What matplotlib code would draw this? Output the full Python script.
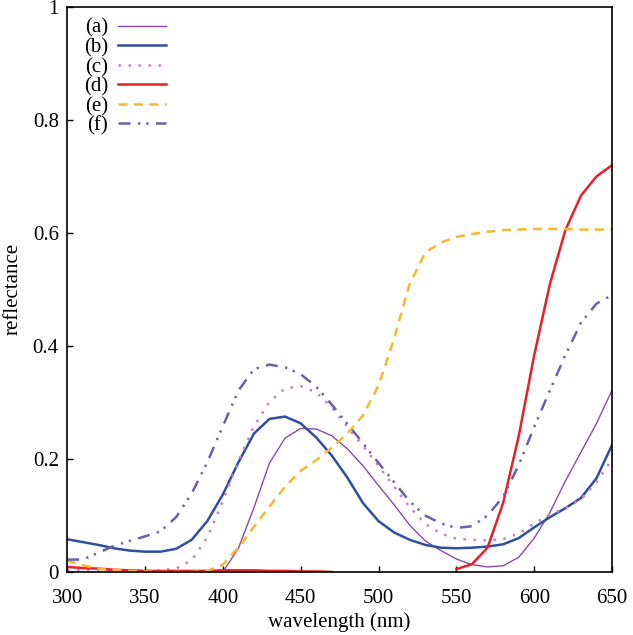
import numpy as np
import matplotlib
matplotlib.use('Agg')
import matplotlib.pyplot as plt

nan = np.nan

# wavelength grid (nm)
wavelength = np.arange(300, 651, 10)

# (a) thin purple
refl_a = [nan, nan, nan, nan, nan, nan, nan, nan, nan, nan,
          0.0, 0.042, 0.114, 0.193, 0.237, 0.254, 0.253, 0.241, 0.218, 0.188,
          0.153, 0.119, 0.083, 0.055, 0.038, 0.023, 0.013, 0.009, 0.011, 0.026,
          0.06, 0.105, 0.161, 0.212, 0.263, 0.322]
# (b) blue
refl_b = [0.058, 0.053, 0.048, 0.042, 0.038, 0.036, 0.036, 0.041, 0.057, 0.09,
          0.137, 0.194, 0.245, 0.271, 0.275, 0.263, 0.238, 0.206, 0.167, 0.122,
          0.09, 0.070, 0.057, 0.048, 0.043, 0.042, 0.043, 0.045, 0.049, 0.060,
          0.079, 0.097, 0.113, 0.131, 0.166, 0.225]
# (c) pink dotted
refl_c = [0.003, 0.003, 0.003, 0.002, 0.002, 0.002, 0.003, 0.006, 0.021, 0.061,
          0.125, 0.196, 0.258, 0.301, 0.325, 0.329, 0.318, 0.291, 0.257, 0.223,
          0.188, 0.151, 0.115, 0.085, 0.068, 0.059, 0.057, 0.056, 0.058, 0.068,
          0.086, 0.101, 0.113, 0.129, 0.159, 0.2]
# (d) red
refl_d = [0.009, 0.007, 0.006, 0.004, 0.003, 0.002, 0.002, 0.002, 0.002, 0.002,
          0.003, 0.003, 0.003, 0.002, 0.002, 0.001, 0.001, 0.0, nan, nan,
          nan, nan, nan, nan, nan, 0.005, 0.014, 0.043, 0.122, 0.24,
          0.384, 0.509, 0.605, 0.666, 0.70, 0.72]
# (e) yellow dashed
refl_e = [0.020, 0.012, 0.006, 0.004, 0.002, 0.001, 0.0, 0.0, 0.0, 0.002,
          0.013, 0.043, 0.08, 0.116, 0.151, 0.179, 0.198, 0.22, 0.245, 0.277,
          0.33, 0.413, 0.51, 0.565, 0.583, 0.593, 0.598, 0.602, 0.605, 0.606,
          0.607, 0.607, 0.607, 0.606, 0.606, 0.606]
# (f) dash-dot
refl_f = [0.022, 0.022, 0.034, 0.046, 0.055, 0.063, 0.072, 0.097, 0.139, 0.194,
          0.258, 0.321, 0.359, 0.367, 0.362, 0.35, 0.328, 0.296, 0.262, 0.228,
          0.193, 0.159, 0.125, 0.1, 0.086, 0.078, 0.081, 0.1, 0.133, 0.189,
          0.257, 0.321, 0.384, 0.441, 0.475, 0.49]

labels = ['(a)', '(b)', '(c)', '(d)', '(e)', '(f)']

plt.rcParams['font.family'] = ['Liberation Serif', 'DejaVu Serif']

fig = plt.figure(figsize=(6.33, 6.35), dpi=100)
ax = fig.add_axes([0.106, 0.0992, 0.861, 0.890])

ax.plot(wavelength, refl_a, color='#8a4ca6', lw=1.0, label=labels[0])
ax.plot(wavelength, refl_b, color='#2f4fa2', lw=1.8, label=labels[1])
ax.plot(wavelength, refl_c, color='#cf7fbf', lw=1.8, dashes=(1, 3.0), label=labels[2])
ax.plot(wavelength, refl_d, color='#e8202a', lw=1.8, label=labels[3])
ax.plot(wavelength, refl_e, color='#f7b82b', lw=1.8, dashes=(3.6, 2.6), label=labels[4])
ax.plot(wavelength, refl_f, color='#6a60b0', lw=1.8,
        dashes=(4.8, 3.0, 0.9, 2.4, 0.9, 3.0), label=labels[5])

ax.set_xlim(300, 650)
ax.set_ylim(0, 1)
ax.set_xticks(np.arange(300, 651, 50))
ax.set_yticks([0, 0.2, 0.4, 0.6, 0.8, 1])
ax.set_yticklabels(['0', '0.2', '0.4', '0.6', '0.8', '1'])
ax.tick_params(direction='in', labelsize=15, length=4, width=1)
ax.tick_params(axis='x', pad=12)
ax.tick_params(axis='y', pad=6)
for s in ax.spines.values():
    s.set_linewidth(1.2)

ax.set_xlabel('wavelength (nm)', fontsize=15, labelpad=3)
ax.set_ylabel('reflectance', fontsize=15, labelpad=7)

ax.legend(loc='upper left', bbox_to_anchor=(-0.004, 1.013), frameon=False,
          markerfirst=False, fontsize=15, handlelength=2.3, labelspacing=0.0,
          handletextpad=0.5)

fig.savefig('out.png', dpi=100)
